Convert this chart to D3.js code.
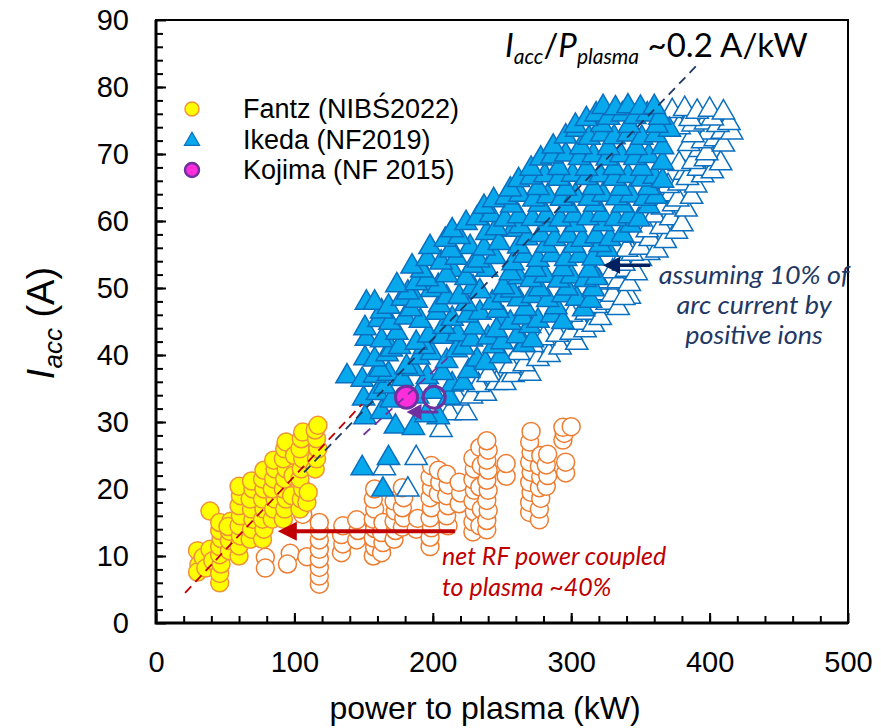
<!DOCTYPE html>
<html>
<head>
<meta charset="utf-8">
<script src="https://cdn.jsdelivr.net/npm/d3@7"></script>
<style>
  body { margin: 0; background: #fff; }
  svg { display: block; }
</style>
</head>
<body>
<div id="chart"></div>
<script>
// power to plasma (kW), Iacc (A)
const fantzPlasma = [
  [30, 10.8], [31, 8.7], [30, 7.6], [34, 9.8], [36, 8.2], [39, 16.7], [39, 11.0], [41, 9.3],
  [46, 6.0], [46, 7.4], [47, 8.8], [46, 10.2], [46, 11.4], [47, 12.6], [46, 13.8], [46, 15.0],
  [53, 10.8], [53, 12.3], [53, 13.7], [54, 15.2], [52, 14.4],
  [60, 10.0], [60, 11.5], [61, 13.0], [60, 14.5], [61, 16.0], [60, 17.5], [61, 19.0], [60, 20.4],
  [68, 12.5], [69, 14.0], [70, 15.5], [69, 17.0], [68, 18.5], [70, 20.0], [69, 21.2],
  [77, 12.5], [78, 14.0], [77, 15.5], [78, 17.0], [77, 18.5], [78, 20.0], [77, 21.5], [78, 22.8],
  [84, 15.5], [85, 17.0], [86, 18.5], [84, 20.0], [85, 21.5], [86, 23.0], [85, 24.3],
  [92, 15.5], [93, 17.0], [94, 18.5], [92, 20.0], [93, 21.5], [94, 23.0], [92, 24.5], [93, 26.0], [94, 27.0],
  [98, 19.0], [99, 22.0], [100, 25.0],
  [104, 17.0], [105, 18.5], [106, 20.0], [104, 21.5], [105, 23.0], [106, 24.5], [104, 26.0], [105, 27.5], [106, 28.5],
  [109, 18.0], [110, 19.5],
  [115, 23.0], [116, 24.5], [117, 26.0], [116, 27.5], [115, 28.8], [117, 29.5]
];

const fantzNetRF = [
  [79, 9.8], [79, 8.2], [97, 10.4], [95, 8.8], [109, 9.9], [106, 16.2],
  [118, 5.8], [118, 7.0], [118, 8.3], [118, 9.6], [118, 11.0], [118, 12.4], [118, 13.8], [118, 15.0],
  [134, 10.5], [135, 11.8], [134, 13.2], [135, 14.5],
  [145, 12.4], [146, 13.8], [145, 15.4],
  [157, 10.0], [158, 11.3], [157, 12.7], [158, 14.1], [157, 15.5], [158, 17.0], [157, 18.5], [158, 20.0],
  [163, 10.5], [164, 12.0], [163, 13.5], [164, 15.0],
  [172, 12.5], [173, 13.8], [172, 15.2], [173, 16.7], [172, 18.2],
  [178, 14.3], [179, 15.7], [178, 17.2], [179, 18.7], [178, 20.2],
  [188, 14.0], [189, 15.6],
  [198, 11.4], [198, 12.8], [199, 14.2], [198, 15.7], [199, 17.2], [198, 18.7], [199, 20.2], [198, 21.8], [199, 23.5],
  [204, 19.3], [205, 21.0], [204, 22.8],
  [211, 14.5], [210, 16.0], [211, 17.5], [210, 19.0], [211, 20.6], [210, 22.2],
  [219, 17.8], [220, 19.4], [219, 21.0],
  [229, 13.6], [229, 15.1], [230, 16.6], [229, 18.2], [230, 19.8], [229, 21.4], [230, 23.0], [229, 24.6],
  [234, 14.5], [235, 17.0], [234, 20.3], [235, 23.5], [234, 26.2],
  [239, 13.9], [239, 15.3], [240, 16.8], [239, 18.3], [240, 19.8], [239, 21.3], [240, 22.8], [239, 24.3], [240, 25.8], [239, 27.2],
  [253, 21.9], [253, 23.8],
  [270, 16.5], [270, 18.0], [271, 19.5], [270, 21.0], [271, 22.5], [270, 24.0], [271, 25.5], [270, 27.0], [271, 28.6],
  [277, 15.4], [277, 17.0], [278, 18.6], [277, 20.2], [278, 21.8], [277, 23.4], [278, 25.0],
  [282, 20.4], [283, 22.0], [282, 23.6], [283, 25.2],
  [294, 27.3], [295, 28.3], [294, 29.2], [296, 22.4], [296, 24.0],
  [300, 29.3]
];

const ikedaAcc = [
  [164, 19.9], [149, 23.1], [168, 24.6],
  [151, 30.7], [173, 29.3], [186, 29.1], [204, 30.7], [163, 31.5], [195, 31.0],
  [150, 33.5], [160, 34.3], [170, 33.2], [189, 33.8], [200, 34.5], [212, 33.6],
  [165, 35.3], [214, 35.6],
  [138, 36.8], [149, 36.3], [158, 36.9], [168, 37.2], [178, 36.4], [196, 36.7], [207, 37.3], [222, 35.8],
  [162, 37.8], [186, 37.9], [226, 37.6],
  [151, 39.5], [158, 39.3], [167, 40.1], [181, 38.2], [190, 39.6], [199, 40.3], [210, 39.1], [217, 40.7], [232, 39.3], [238, 38.8], [249, 39.8],
  [170, 40.8], [194, 41.2], [222, 41.1], [244, 41.3], [266, 41.5],
  [152, 42.4], [163, 42.2], [176, 41.2], [188, 41.8], [197, 42.9], [207, 42.7], [218, 43.1], [228, 42.3], [240, 42.6], [250, 41.9], [261, 42.8], [272, 42.2],
  [174, 43.3], [208, 44.2], [230, 44.1], [251, 45.4], [270, 44.3],
  [151, 44.0], [161, 45.2], [169, 44.8], [180, 45.6], [191, 45.1], [203, 46.3], [214, 45.4], [225, 45.9], [234, 46.3], [246, 43.7], [256, 44.8], [265, 45.6], [276, 45.1], [286, 45.9], [294, 44.9],
  [163, 46.5], [184, 46.8], [205, 47.4], [224, 47.6], [247, 46.6], [267, 46.9], [289, 47.1], [309, 46.8],
  [152, 47.8], [158, 47.8], [168, 47.2], [178, 48.4], [188, 48.1], [199, 49.7], [210, 48.6], [219, 48.7], [229, 50.1], [243, 47.8], [251, 48.9], [262, 48.3], [272, 48.8], [283, 48.2], [294, 48.9], [304, 48.4], [314, 48.1],
  [182, 49.3], [204, 50.3], [234, 49.5], [257, 49.6], [277, 49.8], [297, 49.9], [316, 49.8],
  [174, 50.4], [188, 50.7], [196, 51.3], [214, 52.7], [224, 51.5], [239, 52.7], [251, 50.1], [262, 51.6], [271, 51.2], [281, 51.8], [291, 51.1], [300, 51.7], [310, 51.2], [318, 51.5],
  [192, 52.6], [210, 51.9], [229, 53.3], [256, 52.2], [274, 52.7], [294, 52.8], [313, 52.6],
  [185, 53.2], [196, 54.3], [206, 53.8], [217, 54.5], [227, 56.1], [233, 54.1], [245, 54.6], [258, 53.7], [266, 54.8], [276, 54.2], [286, 54.9], [296, 54.3], [306, 54.8], [316, 54.4], [326, 55.7],
  [213, 55.6], [237, 55.9], [262, 56.2], [282, 56.3], [302, 56.3], [321, 56.4],
  [198, 56.1], [209, 57.2], [219, 57.6], [239, 58.2], [248, 56.7], [258, 58.7], [268, 57.4], [278, 57.9], [288, 57.3], [298, 57.8], [308, 57.2], [318, 57.7], [328, 57.3], [337, 57.9],
  [214, 58.6], [246, 58.9], [263, 59.2], [283, 59.4], [303, 59.4], [323, 59.5], [343, 59.3],
  [224, 59.7], [232, 60.4], [242, 60.9], [252, 60.2], [262, 60.7], [272, 60.3], [282, 60.8], [292, 60.2], [302, 60.8], [312, 60.4], [322, 60.9], [332, 60.3], [342, 60.7], [349, 60.2],
  [237, 62.1], [257, 62.3], [277, 62.4], [297, 62.3], [317, 62.4], [337, 62.3], [356, 62.2],
  [244, 63.1], [253, 63.5], [263, 63.9], [273, 63.2], [283, 63.7], [293, 63.3], [303, 63.8], [313, 63.3], [323, 63.9], [333, 63.4], [343, 63.8], [353, 63.3], [361, 63.6],
  [256, 64.7], [276, 64.9], [296, 64.8], [316, 64.9], [336, 64.8], [356, 64.9],
  [262, 66.1], [271, 66.5], [281, 66.8], [291, 66.3], [301, 66.9], [311, 66.4], [321, 66.8], [331, 66.3], [341, 66.7], [351, 66.2], [360, 66.6], [366, 66.0],
  [271, 67.8], [291, 67.9], [311, 67.8], [331, 67.9], [351, 67.8],
  [278, 69.3], [286, 69.6], [296, 69.9], [306, 69.4], [316, 69.8], [326, 69.3], [336, 69.8], [346, 69.4], [356, 69.7], [366, 68.7],
  [287, 71.1], [307, 71.0], [327, 70.9], [347, 70.9], [366, 71.0],
  [296, 72.6], [304, 73.6], [313, 72.4], [322, 72.9], [331, 72.5], [341, 72.9], [351, 72.4], [361, 72.8], [371, 73.6],
  [303, 74.2], [322, 74.3], [342, 74.2], [362, 74.2],
  [311, 75.2], [318, 75.9], [327, 75.4], [337, 75.9], [346, 75.5], [355, 75.9], [364, 75.4],
  [323, 77.0], [332, 76.8], [341, 77.1], [350, 76.9], [360, 77.0]
];

const ikedaArc = [
  [182, 19.9], [165, 23.1], [188, 24.6], [206, 28.8], [212, 31.3], [224, 31.3], [218, 33.5],
  [228, 33.8], [238, 34.2], [233, 35.5], [246, 35.8], [252, 35.8], [240, 37.0], [258, 37.0], [270, 37.2],
  [256, 38.3], [266, 38.6], [276, 39.4], [284, 40.0], [262, 40.3], [272, 41.5], [292, 41.1], [304, 41.8],
  [280, 42.5], [290, 43.0], [300, 43.3], [310, 43.7], [295, 45.0], [306, 44.8], [316, 44.5],
  [300, 46.0], [311, 46.3], [321, 45.5], [318, 47.3], [312, 48.5], [326, 47.8], [334, 47.0], [342, 48.7],
  [322, 49.2], [330, 49.0], [338, 48.5], [327, 50.8], [320, 51.0], [334, 51.0], [342, 50.6],
  [330, 52.5], [340, 52.7], [347, 52.2], [336, 54.2], [338, 53.6], [350, 54.3], [356, 55.2], [344, 55.1],
  [340, 55.7], [350, 56.0], [362, 55.6], [346, 57.8], [357, 57.3], [368, 57.0],
  [355, 58.6], [365, 59.1], [376, 58.4], [360, 60.8], [372, 60.4], [380, 59.5],
  [366, 62.0], [374, 62.5], [383, 61.7], [372, 64.0], [377, 63.2], [387, 63.6],
  [370, 65.2], [378, 65.6], [390, 65.3], [382, 67.2], [384, 66.4], [395, 66.8], [392, 67.8], [402, 67.4],
  [378, 68.5], [388, 68.8], [397, 69.2], [408, 68.6], [393, 70.6], [398, 70.1],
  [385, 71.5], [395, 71.9], [404, 72.2], [410, 71.4], [399, 73.2], [388, 72.8], [409, 73.3], [416, 73.2],
  [378, 74.0], [388, 74.4], [397, 74.7], [406, 74.3], [414, 74.6], [386, 75.2], [402, 75.3],
  [373, 76.4], [382, 76.7], [391, 76.3], [400, 76.6], [410, 76.2]
];

const kojimaAcc = [[181, 33.7]];
const kojimaArc = [[201, 33.7]];

const xTicks = [0, 100, 200, 300, 400, 500];
const yTicks = [0, 10, 20, 30, 40, 50, 60, 70, 80, 90];

const legendItems = ['Fantz (NIBŚ2022)', 'Ikeda (NF2019)', 'Kojima (NF 2015)'];

// fit lines and arrows, in data units
const fitNavy = [[107, 22.5], [393, 83.7]];
const fitRed = [[21, 4.5], [149, 32.7]];
const fitPurple = [[150, 28.1], [211, 39.6]];
const arrowRed = [[216, 13.7], [88, 13.7]];
const arrowNavy = [[357, 53.4], [323, 53.4]];
const arrowPurple = [[204, 31.5], [181, 31.5]];

const width = 881;
const height = 728;
const margin = { top: 20, right: 33, bottom: 105, left: 156 };

const svg = d3.select('#chart')
  .append('svg')
  .attr('width', width)
  .attr('height', height);

const x = d3.scaleLinear().domain([0, 500]).range([margin.left, width - margin.right]);
const y = d3.scaleLinear().domain([0, 90]).range([height - margin.bottom, margin.top]);

const axisFont = '"Liberation Sans", Arial, sans-serif';
const noteFont = 'Lato, "Open Sans", sans-serif';

// minor ticks
svg.append('g')
  .attr('transform', 'translate(0,' + y(0) + ')')
  .call(d3.axisBottom(x).tickValues(d3.range(20, 500, 20)).tickSizeInner(-7).tickSizeOuter(0).tickFormat(''))
  .call(g => g.select('.domain').remove())
  .selectAll('line').attr('stroke-width', 2);
svg.append('g')
  .attr('transform', 'translate(' + x(0) + ',0)')
  .call(d3.axisLeft(y).tickValues(d3.range(2, 90, 2)).tickSizeInner(-7).tickSizeOuter(0).tickFormat(''))
  .call(g => g.select('.domain').remove())
  .selectAll('line').attr('stroke-width', 2);

// major ticks + labels
const xAxis = svg.append('g')
  .attr('transform', 'translate(0,' + y(0) + ')')
  .call(d3.axisBottom(x).tickValues(xTicks).tickSizeInner(-10).tickSizeOuter(0).tickPadding(28));
xAxis.selectAll('line').attr('stroke-width', 2);
xAxis.selectAll('text')
  .attr('font-family', axisFont)
  .attr('font-size', 29)
  .attr('fill', '#000');

const yAxis = svg.append('g')
  .attr('transform', 'translate(' + x(0) + ',0)')
  .call(d3.axisLeft(y).tickValues(yTicks).tickSizeInner(-10).tickSizeOuter(0).tickPadding(27));
yAxis.selectAll('line').attr('stroke-width', 2);
yAxis.selectAll('text')
  .attr('font-family', axisFont)
  .attr('font-size', 29)
  .attr('fill', '#000');
svg.selectAll('.domain').remove();

// plot frame
svg.append('rect')
  .attr('x', x(0))
  .attr('y', y(90))
  .attr('width', x(500) - x(0))
  .attr('height', y(0) - y(90))
  .attr('fill', 'none')
  .attr('stroke', '#000')
  .attr('stroke-width', 2);
svg.append('path')
  .attr('d', `M${x(0)},${y(90)}V${y(0)}H${x(500)}`)
  .attr('fill', 'none')
  .attr('stroke', '#000')
  .attr('stroke-width', 3);

const plot = svg.append('g');

// net RF power (open circles)
plot.append('g')
  .selectAll('circle')
  .data(fantzNetRF)
  .enter()
  .append('circle')
  .attr('cx', d => x(d[0]))
  .attr('cy', d => y(d[1]))
  .attr('r', 9)
  .attr('fill', '#fff')
  .attr('stroke', '#ED7D31')
  .attr('stroke-width', 1.5);

plot.append('g')
  .selectAll('circle')
  .data(fantzPlasma)
  .enter()
  .append('circle')
  .attr('cx', d => x(d[0]))
  .attr('cy', d => y(d[1]))
  .attr('r', 9)
  .attr('fill', '#FFFF00')
  .attr('stroke', '#F0923A')
  .attr('stroke-width', 1.5);

const tri = d3.symbol().type(d3.symbolTriangle).size(215);

plot.append('g')
  .selectAll('path')
  .data(ikedaArc)
  .enter()
  .append('path')
  .attr('d', tri)
  .attr('transform', d => 'translate(' + x(d[0]) + ',' + y(d[1]) + ')')
  .attr('fill', '#fff')
  .attr('stroke', '#0B6FBF')
  .attr('stroke-width', 1.5);

plot.append('g')
  .selectAll('path')
  .data(ikedaAcc)
  .enter()
  .append('path')
  .attr('d', tri)
  .attr('transform', d => 'translate(' + x(d[0]) + ',' + y(d[1]) + ')')
  .attr('fill', '#08A8EC')
  .attr('stroke', '#0B6FBF')
  .attr('stroke-width', 1.5);

plot.append('g')
  .selectAll('circle')
  .data(kojimaAcc)
  .enter()
  .append('circle')
  .attr('cx', d => x(d[0]))
  .attr('cy', d => y(d[1]))
  .attr('r', 11)
  .attr('fill', '#FF2EDB')
  .attr('stroke', '#7030A0')
  .attr('stroke-width', 3);

plot.append('g')
  .selectAll('circle')
  .data(kojimaArc)
  .enter()
  .append('circle')
  .attr('cx', d => x(d[0]))
  .attr('cy', d => y(d[1]))
  .attr('r', 11)
  .attr('fill', 'none')
  .attr('stroke', '#7030A0')
  .attr('stroke-width', 3);

// dashed fit lines
const line = d3.line().x(d => x(d[0])).y(d => y(d[1]));
[[fitRed, '#C00000'], [fitNavy, '#1F3864'], [fitPurple, '#7030A0']].forEach(([pts, col]) => {
  svg.append('path')
    .attr('d', line(pts))
    .attr('fill', 'none')
    .attr('stroke', col)
    .attr('stroke-width', 1.8)
    .attr('stroke-dasharray', '9,6');
});

function drawArrow(pts, col, w, len, half) {
  const x1 = x(pts[0][0]), y1 = y(pts[0][1]);
  const x2 = x(pts[1][0]), y2 = y(pts[1][1]);
  const dir = x2 < x1 ? 1 : -1;
  svg.append('line')
    .attr('x1', x1).attr('y1', y1)
    .attr('x2', x2 + dir * len * 0.8).attr('y2', y2)
    .attr('stroke', col)
    .attr('stroke-width', w);
  svg.append('path')
    .attr('d', `M${x2},${y2}L${x2 + dir * len},${y2 - half}L${x2 + dir * len},${y2 + half}Z`)
    .attr('fill', col);
}
drawArrow(arrowRed, '#C00000', 4, 19, 9.5);
drawArrow(arrowNavy, '#002060', 3.5, 17, 8.5);
drawArrow(arrowPurple, '#7030A0', 3, 15, 8);

// axis titles
svg.append('text')
  .attr('x', (x(0) + x(500)) / 2 - 17)
  .attr('y', 719)
  .attr('text-anchor', 'middle')
  .attr('font-family', axisFont)
  .attr('font-size', 32)
  .text('power to plasma (kW)');

const yTitle = svg.append('text')
  .attr('transform', 'translate(54,323) rotate(-90)')
  .attr('text-anchor', 'middle')
  .attr('font-family', axisFont)
  .attr('font-size', 38);
yTitle.append('tspan').attr('font-style', 'italic').text('I');
yTitle.append('tspan').attr('font-style', 'italic').attr('font-size', 26).attr('dy', 8).text('acc');
yTitle.append('tspan').attr('dy', -8).text(' (A)');

// legend
const legend = svg.append('g').attr('transform', 'translate(192,109)');
legend.append('circle').attr('cx', 0).attr('cy', 0).attr('r', 7)
  .attr('fill', '#FFFF00').attr('stroke', '#F0923A').attr('stroke-width', 1.5);
legend.append('path').attr('d', d3.symbol().type(d3.symbolTriangle).size(100))
  .attr('transform', 'translate(0,32)')
  .attr('fill', '#08A8EC').attr('stroke', '#0B6FBF').attr('stroke-width', 1.2);
legend.append('circle').attr('cx', 0).attr('cy', 61).attr('r', 7)
  .attr('fill', '#FF2EDB').attr('stroke', '#7030A0').attr('stroke-width', 2.5);
legend.selectAll('text.leg')
  .data(legendItems)
  .enter()
  .append('text')
  .attr('class', 'leg')
  .attr('x', 51)
  .attr('y', (d, i) => i * 30.5 + 9)
  .attr('font-family', axisFont)
  .attr('font-size', 27)
  .text(d => d);

// slope label
const slope = svg.append('text')
  .attr('x', 505)
  .attr('y', 57)
  .attr('font-family', noteFont)
  .attr('font-size', 33)
  .attr('fill', '#000');
slope.append('tspan').attr('font-style', 'italic').text('I');
slope.append('tspan').attr('font-style', 'italic').attr('font-size', 21).attr('dy', 7).text('acc');
slope.append('tspan').attr('dy', -7).text('/');
slope.append('tspan').attr('font-style', 'italic').text('P');
slope.append('tspan').attr('font-style', 'italic').attr('font-size', 21).attr('dy', 7).text('plasma');
slope.append('tspan').attr('dy', -7).text(' ~0.2 A/kW');

// notes
const navyNote = ['assuming 10% of', 'arc current by', 'positive ions'];
svg.append('g').selectAll('text')
  .data(navyNote)
  .enter()
  .append('text')
  .attr('transform', (d, i) => 'translate(754,' + (284 + i * 30) + ') scale(1.1,1)')
  .attr('text-anchor', 'middle')
  .attr('font-family', noteFont)
  .attr('font-style', 'italic')
  .attr('font-size', 24.5)
  .attr('fill', '#1F3864')
  .text(d => d);

const redNote = ['net RF power coupled', 'to plasma ~40%'];
svg.append('g').selectAll('text')
  .data(redNote)
  .enter()
  .append('text')
  .attr('x', 442)
  .attr('y', (d, i) => 565 + i * 31)
  .attr('font-family', noteFont)
  .attr('font-style', 'italic')
  .attr('font-size', 25)
  .attr('fill', '#C00000')
  .text(d => d);
</script>
</body>
</html>
